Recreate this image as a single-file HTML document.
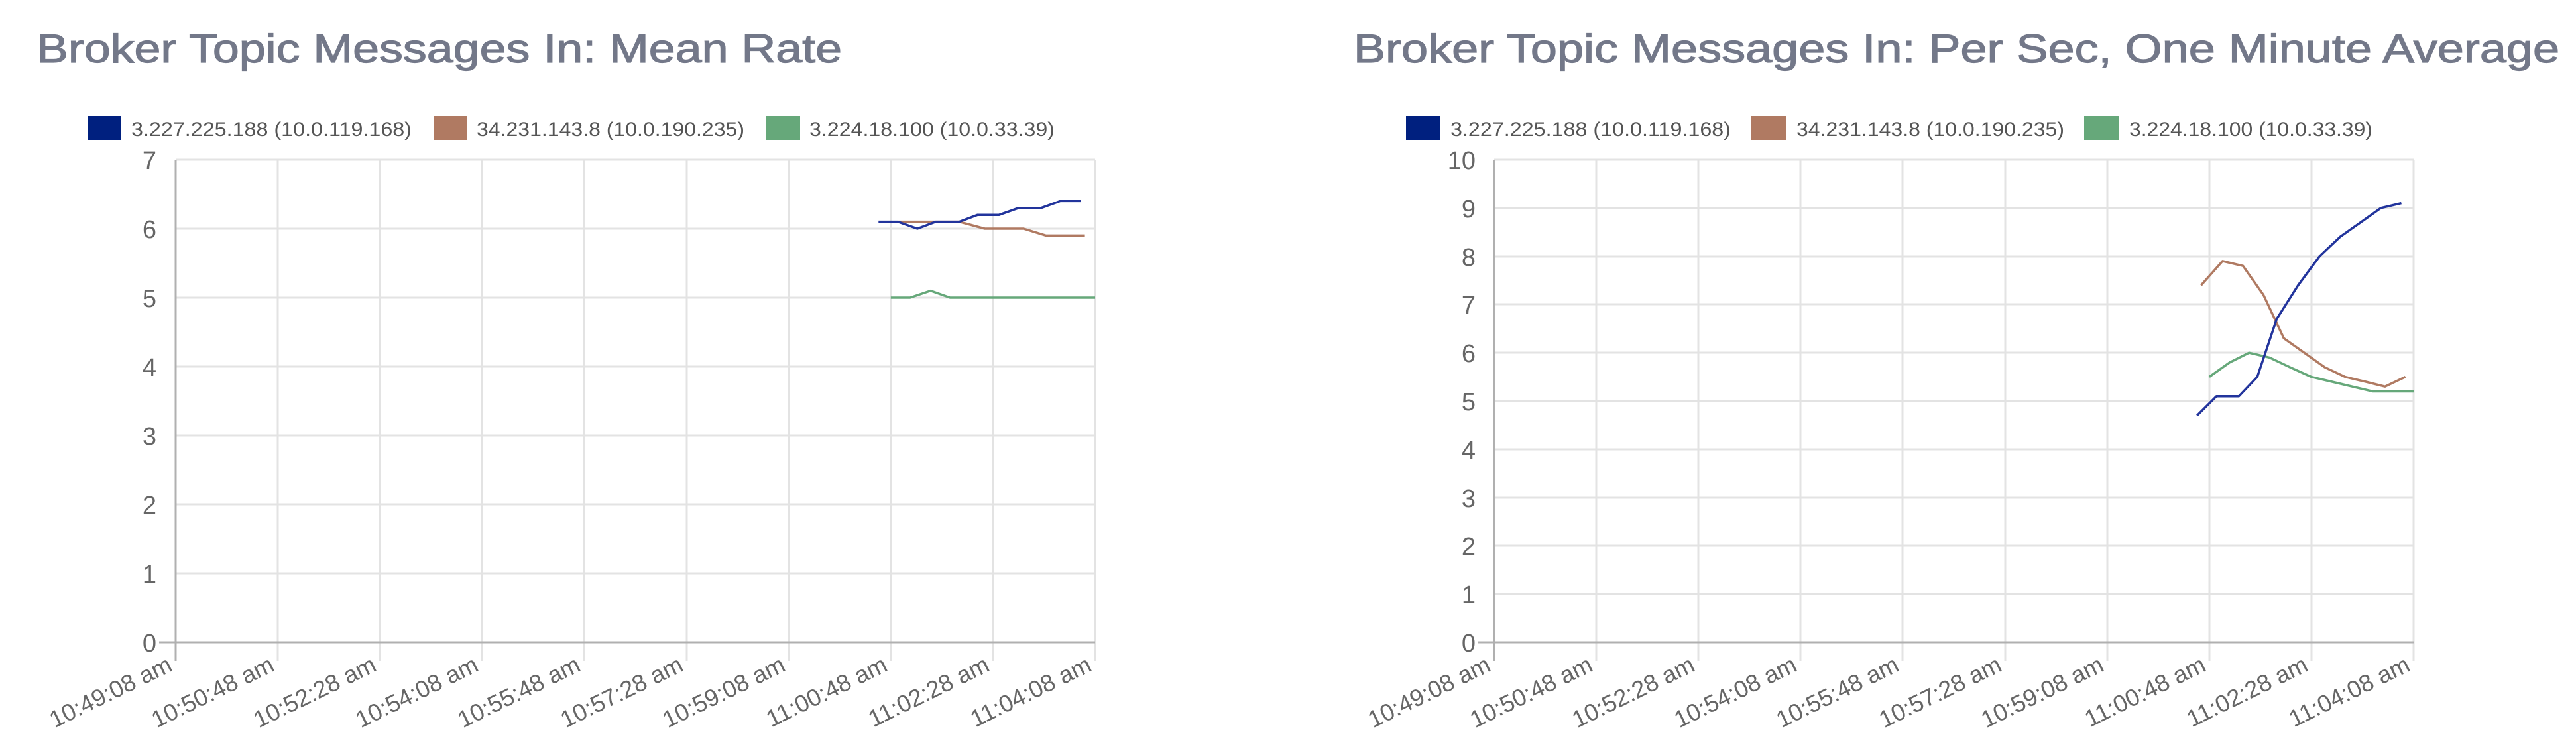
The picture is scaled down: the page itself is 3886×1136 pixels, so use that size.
<!DOCTYPE html>
<html><head><meta charset="utf-8"><style>
html,body{margin:0;padding:0;background:#fff;width:3886px;height:1136px;overflow:hidden}
svg{display:block}
text{font-family:"Liberation Sans",sans-serif}
</style></head><body>
<svg width="3886" height="1136" viewBox="0 0 3886 1136" xmlns="http://www.w3.org/2000/svg">
<!-- Titles -->
<text x="55" y="94" font-size="60" fill="#737889" stroke="#737889" stroke-width="1.2" textLength="1215" lengthAdjust="spacingAndGlyphs">Broker Topic Messages In: Mean Rate</text>
<text x="2042" y="94" font-size="60" fill="#737889" stroke="#737889" stroke-width="1.2" textLength="1819" lengthAdjust="spacingAndGlyphs">Broker Topic Messages In: Per Sec, One Minute Average</text>

<!-- Legends left -->
<rect x="133" y="175" width="50" height="36" fill="#00207f"/>
<text x="198" y="205" font-size="30" fill="#555" textLength="423" lengthAdjust="spacingAndGlyphs">3.227.225.188 (10.0.119.168)</text>
<rect x="654" y="175" width="50" height="36" fill="#b07a62"/>
<text x="719" y="205" font-size="30" fill="#555" textLength="404" lengthAdjust="spacingAndGlyphs">34.231.143.8 (10.0.190.235)</text>
<rect x="1155" y="175" width="52" height="36" fill="#66a87a"/>
<text x="1221" y="205" font-size="30" fill="#555" textLength="370" lengthAdjust="spacingAndGlyphs">3.224.18.100 (10.0.33.39)</text>
<!-- Legends right -->
<rect x="2121" y="175" width="52" height="36" fill="#00207f"/>
<text x="2188" y="205" font-size="30" fill="#555" textLength="423" lengthAdjust="spacingAndGlyphs">3.227.225.188 (10.0.119.168)</text>
<rect x="2642" y="175" width="53" height="36" fill="#b07a62"/>
<text x="2710" y="205" font-size="30" fill="#555" textLength="404" lengthAdjust="spacingAndGlyphs">34.231.143.8 (10.0.190.235)</text>
<rect x="3144" y="175" width="53" height="36" fill="#66a87a"/>
<text x="3212" y="205" font-size="30" fill="#555" textLength="367" lengthAdjust="spacingAndGlyphs">3.224.18.100 (10.0.33.39)</text>

<!-- LEFT CHART -->
<g stroke="#e3e3e3" stroke-width="3">
<line x1="265" y1="241" x2="1652" y2="241"/>
<line x1="265" y1="345" x2="1652" y2="345"/>
<line x1="265" y1="449" x2="1652" y2="449"/>
<line x1="265" y1="553" x2="1652" y2="553"/>
<line x1="265" y1="657" x2="1652" y2="657"/>
<line x1="265" y1="761" x2="1652" y2="761"/>
<line x1="265" y1="865" x2="1652" y2="865"/>
<line x1="419" y1="241" x2="419" y2="997"/>
<line x1="573" y1="241" x2="573" y2="997"/>
<line x1="727" y1="241" x2="727" y2="997"/>
<line x1="881" y1="241" x2="881" y2="997"/>
<line x1="1036" y1="241" x2="1036" y2="997"/>
<line x1="1190" y1="241" x2="1190" y2="997"/>
<line x1="1344" y1="241" x2="1344" y2="997"/>
<line x1="1498" y1="241" x2="1498" y2="997"/>
<line x1="1652" y1="241" x2="1652" y2="997"/>
</g>
<g stroke="#b0b0b0" stroke-width="3">
<line x1="265" y1="241" x2="265" y2="997"/>
<line x1="240" y1="969" x2="1652" y2="969"/>
</g>
<g font-size="38" fill="#666" text-anchor="end">
<text x="236" y="255">7</text><text x="236" y="359">6</text><text x="236" y="463">5</text>
<text x="236" y="567">4</text><text x="236" y="671">3</text><text x="236" y="775">2</text>
<text x="236" y="879">1</text><text x="236" y="983">0</text>
</g>
<g font-size="36" fill="#666" text-anchor="end">
<text transform="translate(262,1011) rotate(-26)">10:49:08 am</text>
<text transform="translate(416,1011) rotate(-26)">10:50:48 am</text>
<text transform="translate(570,1011) rotate(-26)">10:52:28 am</text>
<text transform="translate(724,1011) rotate(-26)">10:54:08 am</text>
<text transform="translate(878,1011) rotate(-26)">10:55:48 am</text>
<text transform="translate(1033,1011) rotate(-26)">10:57:28 am</text>
<text transform="translate(1187,1011) rotate(-26)">10:59:08 am</text>
<text transform="translate(1341,1011) rotate(-26)">11:00:48 am</text>
<text transform="translate(1495,1011) rotate(-26)">11:02:28 am</text>
<text transform="translate(1649,1011) rotate(-26)">11:04:08 am</text>
</g>
<svg x="265" y="241" width="1387" height="728" viewBox="0 -7 9 7" preserveAspectRatio="none" overflow="visible">
<polyline vector-effect="non-scaling-stroke" stroke="#b07a62" stroke-width="3.5" fill="none" stroke-linejoin="round" points="7.07,-6.1 7.67,-6.1 7.92,-6.0 8.3,-6.0 8.52,-5.9 8.9,-5.9"/>
<polyline vector-effect="non-scaling-stroke" stroke="#66a87a" stroke-width="3.5" fill="none" stroke-linejoin="round" points="7.0,-5.0 7.19,-5.0 7.39,-5.1 7.58,-5.0 9,-5.0"/>
<polyline vector-effect="non-scaling-stroke" stroke="#22349c" stroke-width="3.5" fill="none" stroke-linejoin="round" points="6.88,-6.1 7.07,-6.1 7.26,-6.0 7.44,-6.1 7.67,-6.1 7.85,-6.2 8.06,-6.2 8.25,-6.3 8.47,-6.3 8.66,-6.4 8.86,-6.4"/>
</svg>

<!-- RIGHT CHART -->
<g stroke="#e3e3e3" stroke-width="3">
<line x1="2254" y1="241" x2="3641" y2="241"/>
<line x1="2254" y1="314" x2="3641" y2="314"/>
<line x1="2254" y1="387" x2="3641" y2="387"/>
<line x1="2254" y1="459" x2="3641" y2="459"/>
<line x1="2254" y1="532" x2="3641" y2="532"/>
<line x1="2254" y1="605" x2="3641" y2="605"/>
<line x1="2254" y1="678" x2="3641" y2="678"/>
<line x1="2254" y1="751" x2="3641" y2="751"/>
<line x1="2254" y1="823" x2="3641" y2="823"/>
<line x1="2254" y1="896" x2="3641" y2="896"/>
<line x1="2408" y1="241" x2="2408" y2="997"/>
<line x1="2562" y1="241" x2="2562" y2="997"/>
<line x1="2716" y1="241" x2="2716" y2="997"/>
<line x1="2870" y1="241" x2="2870" y2="997"/>
<line x1="3025" y1="241" x2="3025" y2="997"/>
<line x1="3179" y1="241" x2="3179" y2="997"/>
<line x1="3333" y1="241" x2="3333" y2="997"/>
<line x1="3487" y1="241" x2="3487" y2="997"/>
<line x1="3641" y1="241" x2="3641" y2="997"/>
</g>
<g stroke="#b0b0b0" stroke-width="3">
<line x1="2254" y1="241" x2="2254" y2="997"/>
<line x1="2229" y1="969" x2="3641" y2="969"/>
</g>
<g font-size="38" fill="#666" text-anchor="end">
<text x="2226" y="255">10</text><text x="2226" y="328">9</text><text x="2226" y="401">8</text>
<text x="2226" y="473">7</text><text x="2226" y="546">6</text><text x="2226" y="619">5</text>
<text x="2226" y="692">4</text><text x="2226" y="765">3</text><text x="2226" y="837">2</text>
<text x="2226" y="910">1</text><text x="2226" y="983">0</text>
</g>
<g font-size="36" fill="#666" text-anchor="end">
<text transform="translate(2251,1011) rotate(-26)">10:49:08 am</text>
<text transform="translate(2405,1011) rotate(-26)">10:50:48 am</text>
<text transform="translate(2559,1011) rotate(-26)">10:52:28 am</text>
<text transform="translate(2713,1011) rotate(-26)">10:54:08 am</text>
<text transform="translate(2867,1011) rotate(-26)">10:55:48 am</text>
<text transform="translate(3022,1011) rotate(-26)">10:57:28 am</text>
<text transform="translate(3176,1011) rotate(-26)">10:59:08 am</text>
<text transform="translate(3330,1011) rotate(-26)">11:00:48 am</text>
<text transform="translate(3484,1011) rotate(-26)">11:02:28 am</text>
<text transform="translate(3638,1011) rotate(-26)">11:04:08 am</text>
</g>
<svg x="2254" y="241" width="1387" height="728" viewBox="0 -10 9 10" preserveAspectRatio="none" overflow="visible">
<polyline vector-effect="non-scaling-stroke" stroke="#b07a62" stroke-width="3.5" fill="none" stroke-linejoin="round" points="6.92,-7.4 7.13,-7.9 7.33,-7.8 7.53,-7.2 7.73,-6.3 7.93,-6.0 8.13,-5.7 8.33,-5.5 8.53,-5.4 8.72,-5.3 8.92,-5.5"/>
<polyline vector-effect="non-scaling-stroke" stroke="#66a87a" stroke-width="3.5" fill="none" stroke-linejoin="round" points="7.0,-5.5 7.2,-5.8 7.39,-6.0 7.59,-5.9 7.79,-5.7 8.0,-5.5 8.2,-5.4 8.4,-5.3 8.6,-5.2 9,-5.2"/>
<polyline vector-effect="non-scaling-stroke" stroke="#22349c" stroke-width="3.5" fill="none" stroke-linejoin="round" points="6.88,-4.7 7.07,-5.1 7.29,-5.1 7.47,-5.5 7.66,-6.7 7.87,-7.4 8.08,-8.0 8.28,-8.4 8.48,-8.7 8.68,-9.0 8.88,-9.1"/>
</svg>
</svg>
</body></html>
